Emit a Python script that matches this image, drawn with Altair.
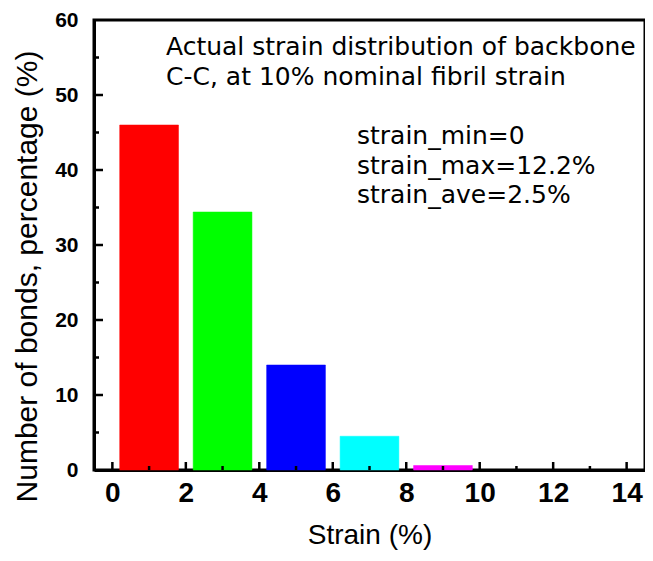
import altair as alt
import pandas as pd

# ---- data ----
bin_start = [0, 2, 4, 6, 8]
percentage = [46.0, 34.4, 14.0, 4.5, 0.6]
bar_colors = ["#FF0000", "#00FF00", "#0000FF", "#00FFFF", "#FF00FF"]

x_major = [0, 2, 4, 6, 8, 10, 12, 14]
x_minor = [1, 3, 5, 7, 9, 11, 13]
y_major = [0, 10, 20, 30, 40, 50, 60]
y_minor = [5, 15, 25, 35, 45, 55]

title_lines = ["Actual strain distribution of backbone", "C-C, at 10% nominal fibril strain"]
stat_lines = ["strain_min=0", "strain_max=12.2%", "strain_ave=2.5%"]

FONT = "Liberation Sans"
TXT_FONT = "DejaVu Sans"
W, H = 551, 450
X_TITLE = "Strain (%)"
Y_TITLE = "Number of bonds, percentage (%)"

bars_df = pd.DataFrame({"start": bin_start, "pct": percentage, "color": bar_colors})

xscale = alt.Scale(domain=[-0.5, 14.5], nice=False, zero=False)
yscale = alt.Scale(domain=[0, 60], nice=False)

xaxis = alt.Axis(values=x_major, labelFontSize=28, labelPadding=9, titlePadding=14,
                 titleFontSize=28)
yaxis = alt.Axis(values=y_major, labelFontSize=21, labelPadding=16, titlePadding=12,
                 titleFontSize=30, titleY=256)

bars = alt.Chart(bars_df).transform_calculate(
    x0="datum.start + 0.2", x1="datum.start + 1.8"
).mark_rect(strokeWidth=1, strokeOpacity=0.5).encode(
    x=alt.X("x0:Q", scale=xscale, title=X_TITLE, axis=xaxis),
    x2="x1:Q",
    y=alt.Y("pct:Q", scale=yscale, title=Y_TITLE, axis=yaxis),
    y2=alt.datum(0),
    color=alt.Color("color:N", scale=None),
    stroke=alt.Color("color:N", scale=None),
)

xmaj = alt.Chart(pd.DataFrame({"v": x_major})).mark_rule(color="black", strokeWidth=2.5).encode(
    x=alt.X("v:Q", scale=xscale, title=X_TITLE, axis=xaxis), y=alt.value(H), y2=alt.value(H - 8))
xmin = alt.Chart(pd.DataFrame({"v": x_minor})).mark_rule(color="black", strokeWidth=2.5).encode(
    x=alt.X("v:Q", scale=xscale, title=X_TITLE, axis=xaxis), y=alt.value(H), y2=alt.value(H - 4))
ymaj = alt.Chart(pd.DataFrame({"v": y_major[1:-1]})).mark_rule(color="black", strokeWidth=2.5).encode(
    y=alt.Y("v:Q", scale=yscale, title=Y_TITLE, axis=yaxis), x=alt.value(0), x2=alt.value(9))
ymin = alt.Chart(pd.DataFrame({"v": y_minor})).mark_rule(color="black", strokeWidth=2.5).encode(
    y=alt.Y("v:Q", scale=yscale, title=Y_TITLE, axis=yaxis), x=alt.value(0), x2=alt.value(5))

one = alt.Data(values=[{"a": 1}])
title_txt = alt.Chart(one).mark_text(
    text=title_lines, font=TXT_FONT, fontSize=25, align="left", baseline="alphabetic",
    lineHeight=29.5, color="black"
).encode(x=alt.value(72), y=alt.value(35))
stat_txt = alt.Chart(one).mark_text(
    text=stat_lines, font=TXT_FONT, fontSize=25, align="left", baseline="alphabetic",
    lineHeight=29.5, color="black"
).encode(x=alt.value(263), y=alt.value(124))

chart = alt.layer(bars, xmin, xmaj, ymin, ymaj, title_txt, stat_txt).properties(
    width=W, height=H,
    autosize=alt.AutoSizeParams(type="none"),
    padding={"left": 86, "top": 12, "right": 0, "bottom": 83},
    background="white",
).configure_view(
    stroke="black", strokeWidth=3
).configure_axis(
    ticks=False, grid=False, domainWidth=3, domainColor="black",
    labelFont=FONT, labelFontWeight="bold", labelColor="black", labelFlush=False,
    titleFont=FONT, titleFontWeight="normal", titleColor="black",
)

chart.save("out.html", embed_options={"renderer": "svg", "actions": False})
